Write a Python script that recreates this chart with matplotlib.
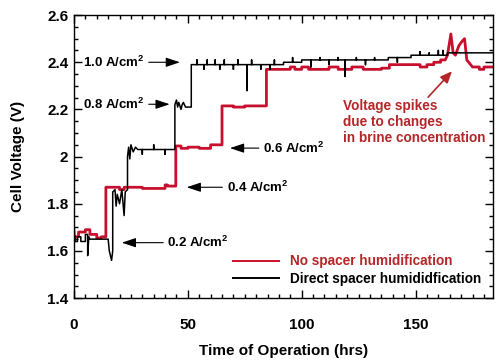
import matplotlib
matplotlib.use("Agg")
import matplotlib.pyplot as plt
from matplotlib.ticker import MultipleLocator

plt.rcParams['font.family'] = ['Liberation Sans', 'DejaVu Sans']
plt.rcParams['mathtext.fontset'] = 'custom'
plt.rcParams['mathtext.rm'] = 'Liberation Sans'
plt.rcParams['mathtext.bf'] = 'Liberation Sans:bold'

# ---- data: (time [hrs], cell voltage [V]) ----
red_pts = [
    (0, 1.64), (0.5, 1.66), (2, 1.66), (2, 1.68), (5, 1.68), (5, 1.69), (7, 1.69),
    (7, 1.67), (10, 1.67), (10, 1.655), (12, 1.655), (12, 1.66), (14, 1.66),
    (14, 1.87), (20, 1.87), (20, 1.86), (22, 1.86), (22, 1.87), (30, 1.87),
    (30, 1.865), (40, 1.865), (40, 1.88), (41, 1.88), (41, 1.875), (44.7, 1.875),
    (44.7, 2.045), (47, 2.045), (47, 2.035), (50, 2.035), (50, 2.04), (55, 2.04),
    (55, 2.035), (60, 2.035), (60, 2.05), (65, 2.05), (65, 2.215), (70, 2.215),
    (70, 2.21), (75, 2.21), (75, 2.215), (84.5, 2.215), (84.5, 2.37), (95, 2.37),
    (95, 2.38), (97, 2.38), (97, 2.37), (100, 2.37), (100, 2.38), (103, 2.38),
    (103, 2.37), (112, 2.37), (112, 2.38), (116, 2.38), (116, 2.37), (122, 2.37),
    (122, 2.38), (127, 2.38), (127, 2.37), (135, 2.37), (135, 2.375),
    (138.5, 2.375), (138.5, 2.39), (152, 2.39), (152, 2.38), (155, 2.38),
    (155, 2.39), (158, 2.39), (158, 2.40), (161, 2.40), (161, 2.41), (163, 2.41),
    (164, 2.43), (165.5, 2.52), (166.5, 2.44), (167.5, 2.43), (169, 2.47),
    (170.5, 2.49), (171.5, 2.50), (172.5, 2.41), (175, 2.38), (178, 2.38),
    (178, 2.37), (180, 2.37), (180, 2.38), (185, 2.38),
]

black_pts = [
    (0, 1.72), (0.5, 1.64), (1.5, 1.64), (1.5, 1.66), (3, 1.66), (3, 1.64),
    (5, 1.64), (5, 1.67), (6, 1.67), (6, 1.58), (6.5, 1.66), (7, 1.65), (15, 1.65),
    (15.5, 1.60), (16, 1.58), (16.5, 1.56), (17, 1.60), (17, 1.85), (18, 1.86),
    (18.5, 1.79), (19, 1.84), (20, 1.80), (21, 1.86), (22, 1.75), (22.5, 1.85),
    (23.5, 1.86), (23.5, 2.00), (24, 2.04), (24.5, 1.99), (25, 2.05), (26, 2.02),
    (27, 2.04), (28, 2.03), (30, 2.03), (30, 2.01), (30, 2.03), (35, 2.03),
    (35, 2.05), (35, 2.03), (40, 2.03), (40, 2.01), (40, 2.03), (44.3, 2.03),
    (44.3, 2.22), (45, 2.24), (45.5, 2.21), (46, 2.23), (47, 2.20), (47.5, 2.22),
    (48, 2.23), (49, 2.21), (51.5, 2.21), (51.5, 2.39),
    (54, 2.39), (54, 2.41), (54, 2.39), (57, 2.39), (57, 2.37), (57, 2.39),
    (58.5, 2.39), (58.5, 2.41), (58.5, 2.39), (62, 2.39), (62, 2.41), (62, 2.39),
    (64, 2.39), (64, 2.37), (64, 2.39), (66, 2.39), (66, 2.41), (66, 2.39),
    (70, 2.39), (70, 2.37), (70, 2.39), (72, 2.39), (72, 2.41), (72, 2.39),
    (76, 2.39), (76, 2.28), (76, 2.39), (78, 2.39), (78, 2.41), (78, 2.39),
    (82, 2.39), (82, 2.37), (82, 2.39), (86, 2.39), (86, 2.37), (86, 2.39),
    (88, 2.39), (88, 2.41), (88, 2.39), (92, 2.39), (92, 2.40), (96, 2.40),
    (96, 2.42), (96, 2.40), (100, 2.40), (100, 2.41), (104, 2.41), (104, 2.38),
    (104, 2.41), (108, 2.41), (108, 2.42), (108, 2.41), (112, 2.41), (112, 2.39),
    (112, 2.41), (116, 2.41), (116, 2.42), (116, 2.41), (119, 2.41), (119, 2.34),
    (119, 2.41), (124, 2.41), (124, 2.42), (124, 2.41), (128, 2.41), (128, 2.39),
    (128, 2.41), (132, 2.41), (132, 2.42), (132, 2.41), (138, 2.41), (138, 2.42),
    (142, 2.42), (142, 2.40), (142, 2.42), (148, 2.42), (148, 2.43), (152, 2.43),
    (152, 2.445), (152, 2.43), (156, 2.43), (156, 2.44), (156, 2.43), (160, 2.43),
    (160, 2.45), (160, 2.43), (162, 2.43), (162, 2.45), (162, 2.43), (164, 2.43),
    (164, 2.44), (185, 2.44),
]
red_t = [p[0] for p in red_pts]
red_v = [p[1] for p in red_pts]
black_t = [p[0] for p in black_pts]
black_v = [p[1] for p in black_pts]

red_color = '#c8102e'
text_red = '#b5262a'

fig = plt.figure(figsize=(5, 3.6), dpi=100)
ax = fig.add_axes([0.148, 0.172, 0.838, 0.786])

ax.plot(red_t, red_v, color=red_color, lw=2.0, label='No spacer humidification')
ax.plot(black_t, black_v, color='black', lw=1.1, label='Direct spacer humididfication')

ax.set_xlim(0, 184)
ax.set_ylim(1.4, 2.6)
ax.xaxis.set_major_locator(MultipleLocator(50))
ax.xaxis.set_minor_locator(MultipleLocator(5))
ax.yaxis.set_minor_locator(MultipleLocator(0.05))
ax.set_yticks([1.4, 1.6, 1.8, 2.0, 2.2, 2.4, 2.6])
ax.set_yticklabels(['1.4', '1.6', '1.8', '2', '2.2', '2.4', '2.6'])
ax.tick_params(which='both', direction='in', top=True, right=True, width=1.0)
ax.tick_params(which='major', length=6, labelsize=11)
ax.tick_params(axis='x', which='major', pad=14)
ax.tick_params(axis='y', which='major', pad=4)
ax.tick_params(which='minor', length=3)
for lab in ax.get_xticklabels() + ax.get_yticklabels():
    lab.set_fontweight('bold')
for s in ax.spines.values():
    s.set_linewidth(1.0)

ax.set_xlabel('Time of Operation (hrs)', fontsize=11, fontweight='bold', labelpad=9)
ax.set_ylabel('Cell Voltage (V)', fontsize=11, fontweight='bold', labelpad=16)

arrow = dict(arrowstyle='-|>,head_length=0.9,head_width=0.3', color='black',
             lw=0.8, shrinkA=1, shrinkB=0)
fs = 9.5
sup = r' A/cm$^{\mathbf{2}}$'
ax.annotate('1.0' + sup, xy=(46.5, 2.40), xytext=(4, 2.40), fontsize=fs,
            fontweight='bold', va='center', ha='left', arrowprops=arrow)
ax.annotate('0.8' + sup, xy=(42, 2.222), xytext=(4, 2.222), fontsize=fs,
            fontweight='bold', va='center', ha='left', arrowprops=arrow)
ax.annotate('0.6' + sup, xy=(68.5, 2.036), xytext=(83, 2.036), fontsize=fs,
            fontweight='bold', va='center', ha='left', arrowprops=arrow)
ax.annotate('0.4' + sup, xy=(49.5, 1.87), xytext=(67, 1.87), fontsize=fs,
            fontweight='bold', va='center', ha='left', arrowprops=arrow)
ax.annotate('0.2' + sup, xy=(21, 1.635), xytext=(41, 1.635), fontsize=fs,
            fontweight='bold', va='center', ha='left', arrowprops=arrow)

ax.annotate('', xy=(166, 2.362), xytext=(155.5, 2.252),
            arrowprops=dict(arrowstyle='-|>,head_length=0.7,head_width=0.3',
                            color=text_red, lw=1.2, shrinkA=0, shrinkB=0))
ax.text(118, 2.245, 'Voltage spikes\ndue to changes\nin brine concentration',
        fontsize=9.8, fontweight='bold', color=text_red, va='top', ha='left',
        linespacing=1.2)

leg = ax.legend(loc='lower right', bbox_to_anchor=(1.0, 0.0), frameon=False,
                fontsize=9.8, handlelength=3.4, handletextpad=0.75,
                borderaxespad=0.5, labelspacing=0.25)
for txt, c in zip(leg.get_texts(), [text_red, 'black']):
    txt.set_color(c)
    txt.set_fontweight('bold')
for ln in leg.get_lines():
    ln.set_linewidth(1.4)

fig.savefig('out.png', dpi=100)
